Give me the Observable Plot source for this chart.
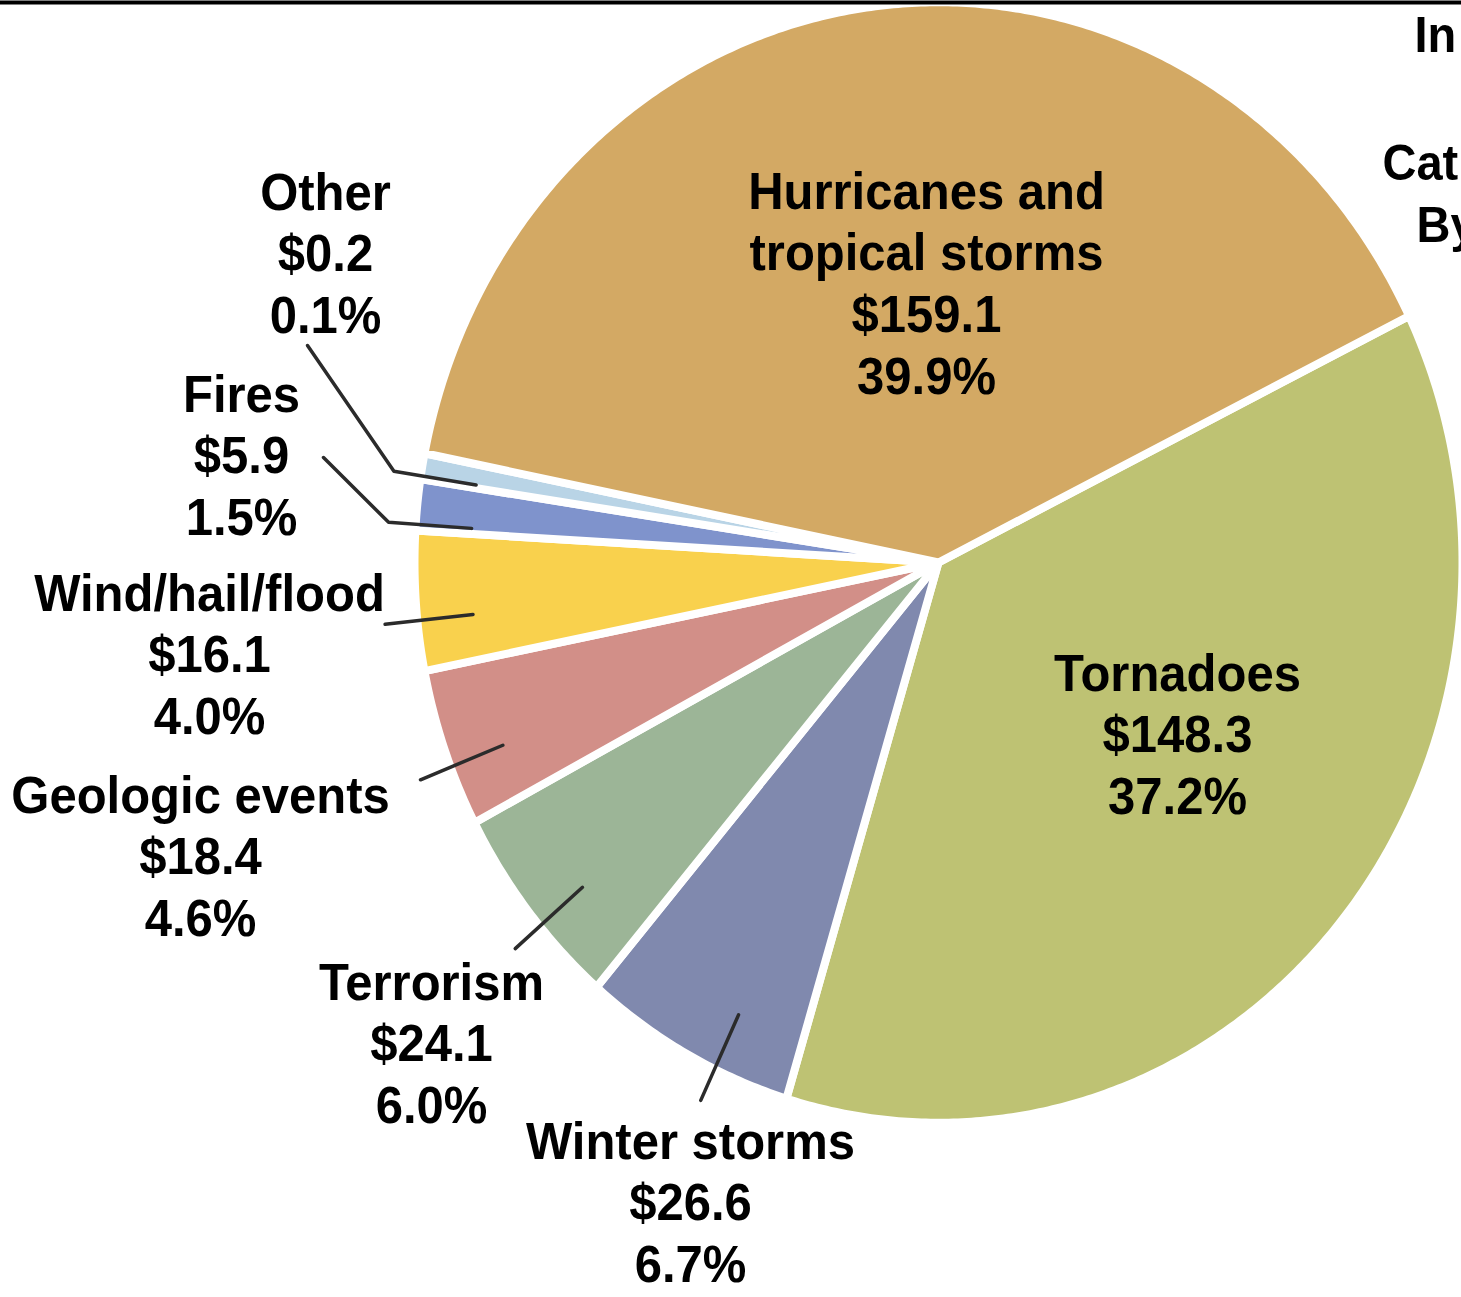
<!DOCTYPE html>
<html><head><meta charset="utf-8">
<script src="https://cdn.jsdelivr.net/npm/d3@7"></script>
<script src="https://cdn.jsdelivr.net/npm/@observablehq/plot@0.6"></script>
<style>html,body{margin:0;padding:0;background:#fff;overflow:hidden}#chart svg{display:block}</style>
</head><body><div id="chart"></div>
<script>
// ---- data (clockwise from the Hurricanes/Tornadoes boundary) ----
const categories = ["Tornadoes","Winter storms","Terrorism","Geologic events","Wind/hail/flood","Fires","Other","Hurricanes and tropical storms"];
const labelNames = [["Tornadoes"],["Winter storms"],["Terrorism"],["Geologic events"],["Wind/hail/flood"],["Fires"],["Other"],["Hurricanes and","tropical storms"]];
const values = [148.3, 26.6, 24.1, 18.4, 16.1, 5.9, 0.2, 159.1];
const percents = [37.2, 6.7, 6.0, 4.6, 4.0, 1.5, 0.1, 39.9];
const colors = ["#bec273","#8089ae","#9cb597","#d28f88","#f9d14d","#7f93cc","#b9d4e6","#d3a964"];
const titleLines = ["In","Cat","By"];

// ---- layout (pixels) ----
const W = 1461, H = 1297;
const CX = 938, CY = 562, RX = 520, RY = 556;
const toX = px => (px - CX) / RX;
const toY = py => (CY - py) / RY;
const FS = 49, LINE = 62, K = 1.06, TFS = 47;
const labelPos = {
  "Tornadoes": [1177, 690],
  "Winter storms": [690, 1158],
  "Terrorism": [431, 999],
  "Geologic events": [200, 812],
  "Wind/hail/flood": [209, 610],
  "Fires": [241, 411],
  "Other": [325, 209],
  "Hurricanes and tropical storms": [926, 208]
};
const leaderEnd = {"Other": [307, 345], "Fires": [323, 457]};
const leaderShift = {"Winter storms": -3.5, "Other": -1};
const outsideLabels = ["Winter storms","Terrorism","Geologic events","Wind/hail/flood","Fires","Other"];
const titlePos = [[1414, 51], [1382, 179], [1416, 241]];
const minVisible = 3; // smallest drawn wedge so the 0.1% slice stays visible
const startDeg = 63.9;

const rows = categories.map((c, i) => ({cat: c, value: values[i], pct: percents[i], names: labelNames[i]}));
const arcs = d3.pie().sort(null).value(d => Math.max(d.value, minVisible))
  .startAngle(startDeg * Math.PI / 180).endAngle(startDeg * Math.PI / 180 + 2 * Math.PI)(rows);

const R = 1 + 4 / RX;
const slicePts = [];
for (const a of arcs) {
  slicePts.push({cat: a.data.cat, x: 0, y: 0});
  const n = Math.max(4, Math.ceil((a.endAngle - a.startAngle) / (Math.PI / 360)));
  for (let k = 0; k <= n; ++k) {
    const t = a.startAngle + (a.endAngle - a.startAngle) * k / n;
    slicePts.push({cat: a.data.cat, x: R * Math.sin(t), y: R * Math.cos(t)});
  }
}

const leaderPts = [];
for (const a of arcs) {
  const c = a.data.cat;
  if (!outsideLabels.includes(c)) continue;
  const t = (a.startAngle + a.endAngle) / 2 + ((leaderShift[c] ?? -2) * Math.PI / 180);
  leaderPts.push({cat: c, x: 0.9 * Math.sin(t), y: 0.9 * Math.cos(t)});
  if (leaderEnd[c]) {
    leaderPts.push({cat: c, x: 1.06 * Math.sin(t), y: 1.06 * Math.cos(t)});
    leaderPts.push({cat: c, x: toX(leaderEnd[c][0]), y: toY(leaderEnd[c][1])});
  } else {
    leaderPts.push({cat: c, x: 1.07 * Math.sin(t), y: 1.07 * Math.cos(t)});
  }
}

const labels = arcs.map(a => {
  const p = labelPos[a.data.cat];
  return {
    cat: a.data.cat,
    text: [...a.data.names, `$${a.data.value.toFixed(1)}`, `${a.data.pct.toFixed(1)}%`].join("\n"),
    x: toX(p[0]), y: toY(p[1] - 0.71 * LINE)
  };
});
const titles = titleLines.map((t, i) => ({text: t, x: toX(titlePos[i][0]), y: toY(titlePos[i][1] - 0.71 * TFS * K)}));

const chart = Plot.plot({
  width: W, height: H,
  margin: 0,
  style: {fontFamily: "'Liberation Sans', Arial, Helvetica, sans-serif", background: "#fff"},
  x: {domain: [toX(0), toX(W)], range: [0, W], axis: null},
  y: {domain: [toY(H), toY(0)], range: [H, 0], axis: null},
  color: {domain: categories, range: colors},
  marks: [
    Plot.line(slicePts, {x: "x", y: "y", z: "cat", fill: "cat", stroke: "white", strokeWidth: 8, strokeLinejoin: "round", curve: "linear-closed"}),
    Plot.line(leaderPts, {x: "x", y: "y", z: "cat", stroke: "#2b2b2b", strokeWidth: 3.5, strokeLinejoin: "round"}),
    Plot.text(labels, {x: "x", y: "y", text: "text", lineAnchor: "top", lineHeight: LINE / (FS * K), fontSize: FS, fontWeight: "bold", fill: "#000"}),
    Plot.text(titles, {x: "x", y: "y", text: "text", lineAnchor: "top", textAnchor: "start", fontSize: TFS, fontWeight: "bold", fill: "#000"}),
    Plot.ruleY([toY(0)], {stroke: "#000", strokeWidth: 4, dy: 2})
  ]
});
// slight vertical stretch of the lettering, as in the reference artwork
chart.querySelectorAll('g[aria-label="text"] text').forEach(el => {
  const tr = el.getAttribute("transform");
  if (tr && tr.includes("translate")) {
    el.setAttribute("transform", tr + ` scale(1,${K})`);
  } else {
    const x = +el.getAttribute("x") || 0, y = +el.getAttribute("y") || 0;
    el.removeAttribute("x"); el.removeAttribute("y");
    el.setAttribute("transform", `translate(${x},${y}) scale(1,${K})` + (tr ? " " + tr : ""));
  }
});
document.getElementById("chart").appendChild(chart);
</script>
</body></html>
